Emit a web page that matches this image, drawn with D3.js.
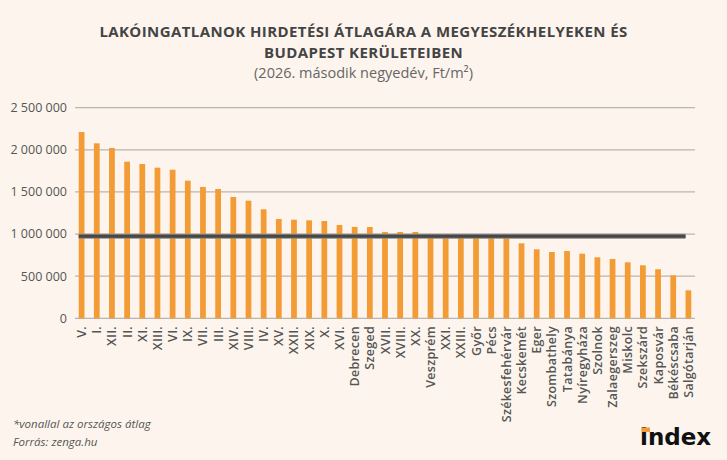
<!DOCTYPE html>
<meta charset="utf-8">
<script src="https://d3js.org/d3.v7.min.js"></script>
<style>
  body { margin: 0; background: #fdf5ed; }
</style>
<div id="chart"></div>
<script>

    // categories and values (Ft/m2)
    const categories = ["V.", "I.", "XII.", "II.", "XI.", "XIII.", "VI.", "IX.", "VII.", "III.",
        "XIV.", "VIII.", "IV.", "XV.", "XXII.", "XIX.", "X.", "XVI.", "Debrecen", "Szeged",
        "XVII.", "XVIII.", "XX.", "Veszprém", "XXI.", "XXIII.", "Győr", "Pécs", "Székesfehérvár",
        "Kecskemét", "Eger", "Szombathely", "Tatabánya", "Nyíregyháza", "Szolnok", "Zalaegerszeg",
        "Miskolc", "Szekszárd", "Kaposvár", "Békéscsaba", "Salgótarján"];
    const prices = [2211000, 2077000, 2022000, 1859000, 1832000, 1788000, 1764000, 1634000, 1559000, 1535000,
        1440000, 1396000, 1294000, 1179000, 1171000, 1163000, 1155000, 1108000, 1085000, 1084000,
        1025000, 1025000, 1025000, 990000, 1000000, 990000, 1000000, 960000, 955000,
        890000, 819000, 787000, 799000, 767000, 724000, 704000,
        665000, 629000, 582000, 510000, 332000];
    const nationalAverage = 975000;
    const yTicks = [0, 500000, 1000000, 1500000, 2000000, 2500000];
    const titleLines = ["LAKÓINGATLANOK HIRDETÉSI ÁTLAGÁRA A MEGYESZÉKHELYEKEN ÉS", "BUDAPEST KERÜLETEIBEN"];

    const W = 727, H = 460;
    const margin = { top: 108, right: 32, bottom: 142, left: 75 };

    const svg = d3.select("#chart")
        .append("svg")
        .attr("width", W)
        .attr("height", H)
        .style("font-family", "'Open Sans', sans-serif");

    svg.append("rect").attr("width", W).attr("height", H).attr("fill", "#fdf5ed");

    const x = d3.scaleBand()
        .domain(categories)
        .range([margin.left, W - margin.right])
        .paddingInner(0.62)
        .paddingOuter(0.245);

    const y = d3.scaleLinear()
        .domain([0, 2500000])
        .range([H - margin.bottom + 0.3, margin.top - 0.3]);

    const fmt = v => d3.format(",")(v).replace(/,/g, " ");

    // gridlines
    svg.append("g")
        .selectAll("line")
        .data(yTicks)
        .join("line")
        .attr("x1", margin.left)
        .attr("x2", W - margin.right)
        .attr("y1", d => y(d))
        .attr("y2", d => y(d))
        .attr("stroke", "#b9b5b0")
        .attr("stroke-width", 1.3);

    // y labels
    svg.append("g")
        .selectAll("text")
        .data(yTicks)
        .join("text")
        .attr("x", 67)
        .attr("y", d => y(d))
        .attr("dy", "0.35em")
        .attr("text-anchor", "end")
        .attr("font-size", 12.5)
        .attr("fill", "#555")
        .text(d => fmt(d));

    // bars
    svg.append("g")
        .selectAll("rect")
        .data(categories)
        .join("rect")
        .attr("x", d => x(d))
        .attr("width", x.bandwidth())
        .attr("y", (d, i) => y(prices[i]))
        .attr("height", (d, i) => y(0) - y(prices[i]))
        .attr("fill", "#f39c35");

    // national average line
    const avg = svg.append("g");
    avg.append("line")
        .attr("x1", x(categories[0]))
        .attr("x2", x(categories[categories.length - 1]))
        .attr("y1", y(nationalAverage))
        .attr("y2", y(nationalAverage))
        .attr("stroke", "#8a8785")
        .attr("stroke-width", 5);
    avg.append("line")
        .attr("x1", x(categories[0]))
        .attr("x2", x(categories[categories.length - 1]))
        .attr("y1", y(nationalAverage))
        .attr("y2", y(nationalAverage))
        .attr("stroke", "#474747")
        .attr("stroke-width", 3);

    // x labels
    svg.append("g")
        .selectAll("text")
        .data(categories)
        .join("text")
        .attr("transform", d => `translate(${x(d) + x.bandwidth() / 2}, 326) rotate(-90)`)
        .attr("dy", "0.36em")
        .attr("text-anchor", "end")
        .attr("font-size", 12.5)
        .attr("font-weight", 600)
        .attr("letter-spacing", 0.3)
        .attr("fill", "#555")
        .text(d => d);

    // title
    const title = svg.append("text")
        .attr("text-anchor", "middle")
        .attr("fill", "#444")
        .attr("font-size", 15)
        .attr("font-weight", 700)
        .attr("letter-spacing", 0.4)
        .attr("y", 37);
    title.selectAll("tspan")
        .data(titleLines)
        .join("tspan")
        .attr("x", 363.5)
        .attr("dy", (d, i) => i === 0 ? 0 : 20.5)
        .text(d => d);

    svg.append("text")
        .attr("x", 363.5).attr("y", 78)
        .attr("text-anchor", "middle")
        .attr("font-size", 14.5).attr("font-weight", 400)
        .attr("fill", "#666")
        .text("(2026. második negyedév, Ft/m²)");

    // footer
    svg.append("text")
        .attr("x", 13).attr("y", 428)
        .attr("font-size", 11.5).attr("font-style", "italic")
        .attr("fill", "#555")
        .text("*vonallal az országos átlag");
    svg.append("text")
        .attr("x", 13).attr("y", 446)
        .attr("font-size", 11.5).attr("font-style", "italic")
        .attr("fill", "#555")
        .text("Forrás: zenga.hu");

    // logo
    svg.append("text")
        .attr("x", 640).attr("y", 445)
        .attr("font-family", "'DejaVu Sans', sans-serif")
        .attr("font-size", 23).attr("font-weight", 700)
        .attr("fill", "#111")
        .text("index");
    svg.append("rect")
        .attr("x", 641.5).attr("y", 427.5)
        .attr("width", 8.5).attr("height", 4.5)
        .attr("fill", "#f39c35");

</script>
